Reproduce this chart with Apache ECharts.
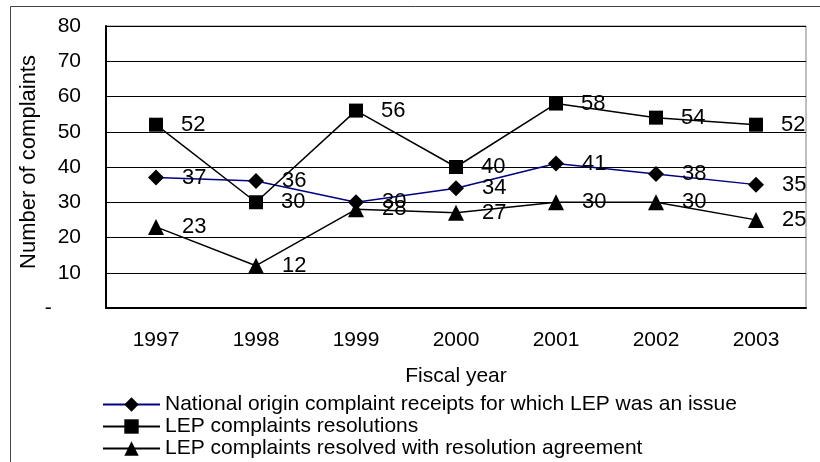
<!DOCTYPE html>
<html>
<head>
<meta charset="utf-8">
<script src="https://cdn.jsdelivr.net/npm/echarts@6/dist/echarts.min.js"></script>
<style>
  html, body { margin: 0; padding: 0; background: #fff; }
  #chart { width: 820px; height: 462px; }
</style>
</head>
<body>
<div id="chart"></div>
<script>
  // data
  const years = ['1997', '1998', '1999', '2000', '2001', '2002', '2003'];
  const nationalOrigin = [37, 36, 30, 34, 41, 38, 35];
  const lepResolutions = [52, 30, 56, 40, 58, 54, 52];
  const lepAgreements = [23, 12, 28, 27, 30, 30, 25];
  const seriesNames = [
    'National origin complaint receipts for which LEP was an issue',
    'LEP complaints resolutions',
    'LEP complaints resolved with resolution agreement'
  ];

  const font = 'Liberation Sans, Arial, sans-serif';
  const chart = echarts.init(document.getElementById('chart'));

  const labelStyle = {
    show: true,
    position: 'right',
    distance: 18,
    color: '#000',
    fontFamily: font,
    fontSize: 22
  };

  function makeSeries(name, data, symbol, lineColor) {
    return {
      name: name,
      type: 'line',
      data: data,
      symbol: symbol,
      symbolSize: symbol === 'rect' ? 14 : 16,
      showAllSymbol: true,
      itemStyle: { color: '#000' },
      lineStyle: { color: lineColor, width: 1.5 },
      label: labelStyle,
      emphasis: { disabled: true },
      animation: false
    };
  }

  // one legend per row so they stack like the original
  const legendTops = [389, 411, 433];
  const legends = seriesNames.map(function (name, i) {
    return {
      orient: 'horizontal',
      left: 97,
      top: legendTops[i],
      itemWidth: 57,
      itemHeight: 18,
      itemGap: 0,
      data: [name],
      textStyle: { color: '#000', fontFamily: font, fontSize: 21, lineHeight: 21 },
      selectedMode: false
    };
  });

  chart.setOption({
    backgroundColor: '#fff',
    textStyle: { fontFamily: font },
    graphic: [{
      type: 'rect',
      shape: { x: 10.5, y: 6.5, width: 830, height: 480 },
      style: { fill: 'none', stroke: '#444', lineWidth: 1 },
      silent: true
    }],
    grid: {
      left: 106, top: 26, width: 700, height: 282,
      show: true, borderColor: '#808080', borderWidth: 1
    },
    legend: legends,
    xAxis: {
      type: 'category',
      data: years,
      boundaryGap: true,
      name: 'Fiscal year',
      nameLocation: 'middle',
      nameGap: 58,
      nameMoveOverlap: false,
      nameTextStyle: { color: '#000', fontFamily: font, fontSize: 21 },
      axisLine: { lineStyle: { color: '#000', width: 2 } },
      axisTick: { show: false },
      axisLabel: { color: '#000', fontFamily: font, fontSize: 21, margin: 22 }
    },
    yAxis: {
      type: 'value',
      min: 0,
      max: 80,
      interval: 10,
      name: 'Number of complaints',
      nameLocation: 'middle',
      nameGap: 66,
      nameMoveOverlap: false,
      nameTextStyle: { color: '#000', fontFamily: font, fontSize: 22, padding: [0, 0, 0, 10] },
      axisLine: { show: true, lineStyle: { color: '#000', width: 2 } },
      axisTick: { show: false },
      axisLabel: {
        color: '#000', fontFamily: font, fontSize: 21, margin: 25,
        formatter: function (v) { return v === 0 ? '-     ' : v; }
      },
      splitLine: { lineStyle: { color: '#000', width: 1 } }
    },
    series: [
      makeSeries(seriesNames[0], nationalOrigin, 'diamond', '#000080'),
      makeSeries(seriesNames[1], lepResolutions, 'rect', '#000'),
      makeSeries(seriesNames[2], lepAgreements, 'triangle', '#000')
    ]
  });
</script>
</body>
</html>
